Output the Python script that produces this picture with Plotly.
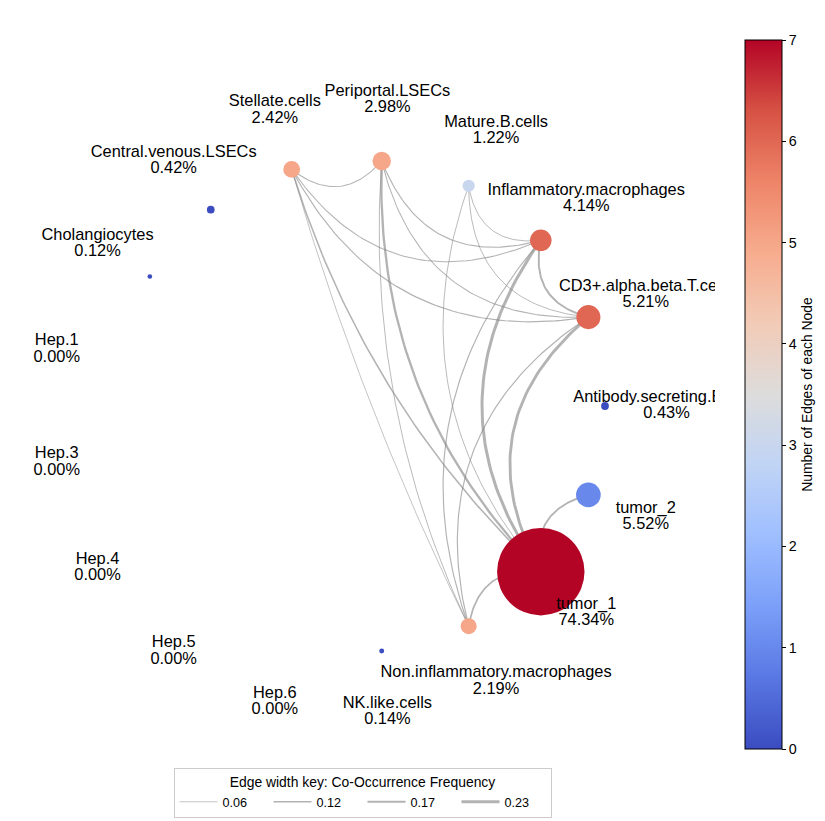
import numpy as np
import plotly.graph_objects as go

# ---------------- data ----------------
nodes = ["Antibody.secreting.B.cells", "CD3+.alpha.beta.T.cells", "Inflammatory.macrophages",
         "Mature.B.cells", "Periportal.LSECs", "Stellate.cells", "Central.venous.LSECs",
         "Cholangiocytes", "Hep.1", "Hep.3", "Hep.4", "Hep.5", "Hep.6", "NK.like.cells",
         "Non.inflammatory.macrophages", "tumor_1", "tumor_2"]
percent = [0.43, 5.21, 4.14, 1.22, 2.98, 2.42, 0.42, 0.12, 0.00, 0.00, 0.00, 0.00, 0.00,
           0.14, 2.19, 74.34, 5.52]

edge_source = ["tumor_1", "tumor_1", "tumor_1", "tumor_1", "tumor_1", "tumor_1", "tumor_1",
               "Inflammatory.macrophages", "Inflammatory.macrophages", "Inflammatory.macrophages",
               "Inflammatory.macrophages", "Inflammatory.macrophages",
               "CD3+.alpha.beta.T.cells", "CD3+.alpha.beta.T.cells", "CD3+.alpha.beta.T.cells",
               "CD3+.alpha.beta.T.cells", "Periportal.LSECs", "Periportal.LSECs", "Stellate.cells"]
edge_target = ["Inflammatory.macrophages", "CD3+.alpha.beta.T.cells", "Periportal.LSECs",
               "tumor_2", "Non.inflammatory.macrophages", "Stellate.cells", "Mature.B.cells",
               "CD3+.alpha.beta.T.cells", "Mature.B.cells", "Periportal.LSECs", "Stellate.cells",
               "Non.inflammatory.macrophages",
               "Mature.B.cells", "Periportal.LSECs", "Stellate.cells", "Non.inflammatory.macrophages",
               "Stellate.cells", "Non.inflammatory.macrophages", "Non.inflammatory.macrophages"]
edge_freq = [0.23, 0.22, 0.18, 0.14, 0.13, 0.12, 0.07,
             0.15, 0.07, 0.09, 0.08, 0.09,
             0.07, 0.08, 0.09, 0.09,
             0.08, 0.07, 0.06]

# ---------------- styling / layout constants ----------------
W, H = 825, 821
PXU = 246.0            # pixels per layout unit
CX, CY = 359.0, 406.0  # circle centre in pixels
ML, MR, MT, MB = 10, 110, 10, 61
FONT = "Liberation Sans, Arial, Helvetica, sans-serif"
EDGE_COLOR = "rgba(128,128,128,0.6)"
WIDTH_SCALE = 13.0
coolwarm = ["#3b4cc0", "#5977e3", "#7b9ff9", "#9ebeff", "#c0d4f5", "#dddcdc",
            "#f2cbb7", "#f7ac8e", "#ee8468", "#d65244", "#b40426"]
colorscale = [[i / 10, c] for i, c in enumerate(coolwarm)]

# ---------------- circular layout ----------------
n = len(nodes)
ang = 2 * np.pi * np.arange(n) / n
nx_ = np.cos(ang)
ny_ = np.sin(ang)
idx = {name: i for i, name in enumerate(nodes)}

degree = np.zeros(n)
for s, t in zip(edge_source, edge_target):
    degree[idx[s]] += 1
    degree[idx[t]] += 1

fig = go.Figure()

# ---------------- edges (curved toward the centre) ----------------
tt = np.linspace(0, 1, 60)[:, None]
for s, t, w in zip(edge_source, edge_target, edge_freq):
    p0 = np.array([nx_[idx[s]], ny_[idx[s]]])
    p1 = np.array([nx_[idx[t]], ny_[idx[t]]])
    mid = (p0 + p1) / 2
    d = p1 - p0
    L = np.linalg.norm(d)
    perp = np.array([-d[1], d[0]]) / L
    if np.dot(perp, -mid) < 0:
        perp = -perp
    rad = 0.48 * np.linalg.norm(mid)
    ctrl = mid + perp * rad * L
    curve = (1 - tt) ** 2 * p0 + 2 * (1 - tt) * tt * ctrl + tt ** 2 * p1
    fig.add_trace(go.Scatter(x=curve[:, 0], y=curve[:, 1], mode="lines",
                             line=dict(color=EDGE_COLOR, width=w * WIDTH_SCALE),
                             hoverinfo="skip", showlegend=False))

# ---------------- legend key for edge widths ----------------
key_vals = np.round(np.linspace(min(edge_freq), max(edge_freq), 4), 2)
for v in key_vals:
    fig.add_trace(go.Scatter(x=[None], y=[None], mode="lines", name=f"{v:.2f}",
                             line=dict(color=EDGE_COLOR, width=v * WIDTH_SCALE),
                             showlegend=True))

# ---------------- nodes ----------------
sizes = [10 * np.sqrt(p) + (1.2 if p > 0 else 0) for p in percent]
fig.add_trace(go.Scatter(
    x=nx_, y=ny_, mode="markers", showlegend=False, hoverinfo="text", text=nodes,
    marker=dict(size=sizes, color=degree, colorscale=colorscale, cmin=0, cmax=7,
                line=dict(width=0), opacity=1,
                colorbar=dict(
                    title=dict(text="Number of Edges of each Node", side="right",
                               font=dict(family=FONT, size=13.9, color="black")),
                    x=(745 - ML) / (W - ML - MR), xanchor="left", xref="paper",
                    y=((H - MB) - 394.5) / (H - MT - MB), yanchor="middle",
                    len=709, lenmode="pixels", thickness=37, thicknessmode="pixels",
                    xpad=0, ypad=0, outlinewidth=1, outlinecolor="black",
                    tickvals=list(range(8)), ticks="outside", ticklen=4, tickwidth=1,
                    tickcolor="black",
                    tickfont=dict(family=FONT, size=14.3, color="black"))),
    cliponaxis=True))

# ---------------- labels ----------------
lx = 1.25 * nx_
ly = 1.25 * ny_
off = 8.2 / PXU
fig.add_trace(go.Scatter(x=lx, y=ly + off, mode="text", text=nodes, textposition="middle center",
                         textfont=dict(family=FONT, size=16.4, color="black"),
                         hoverinfo="skip", showlegend=False, cliponaxis=True))
fig.add_trace(go.Scatter(x=lx, y=ly - off, mode="text", text=[f"{p:.2f}%" for p in percent],
                         textposition="middle center",
                         textfont=dict(family=FONT, size=16.4, color="black"),
                         hoverinfo="skip", showlegend=False, cliponaxis=True))

xr = [(ML - CX) / PXU, (W - MR - CX) / PXU]
yr = [(CY - (H - MB)) / PXU, (CY - MT) / PXU]
fig.update_layout(
    width=W, height=H, margin=dict(l=ML, r=MR, t=MT, b=MB, autoexpand=False),
    paper_bgcolor="white", plot_bgcolor="white",
    xaxis=dict(range=xr, visible=False, fixedrange=True),
    yaxis=dict(range=yr, visible=False, fixedrange=True),
    font=dict(family=FONT, color="black"),
    legend=dict(orientation="h", x=0.5, xanchor="center", y=(H - MB - 768) / (H - MT - MB),
                yanchor="top", bgcolor="white", bordercolor="#cccccc", borderwidth=1,
                font=dict(family=FONT, size=12.6, color="black"),
                title=dict(text="Edge width key: Co-Occurrence Frequency", side="top center",
                           font=dict(family=FONT, size=13.9, color="black")),
                itemwidth=38, entrywidth=41, entrywidthmode="pixels", tracegroupgap=0),
)
fig.write_html("out.html")
